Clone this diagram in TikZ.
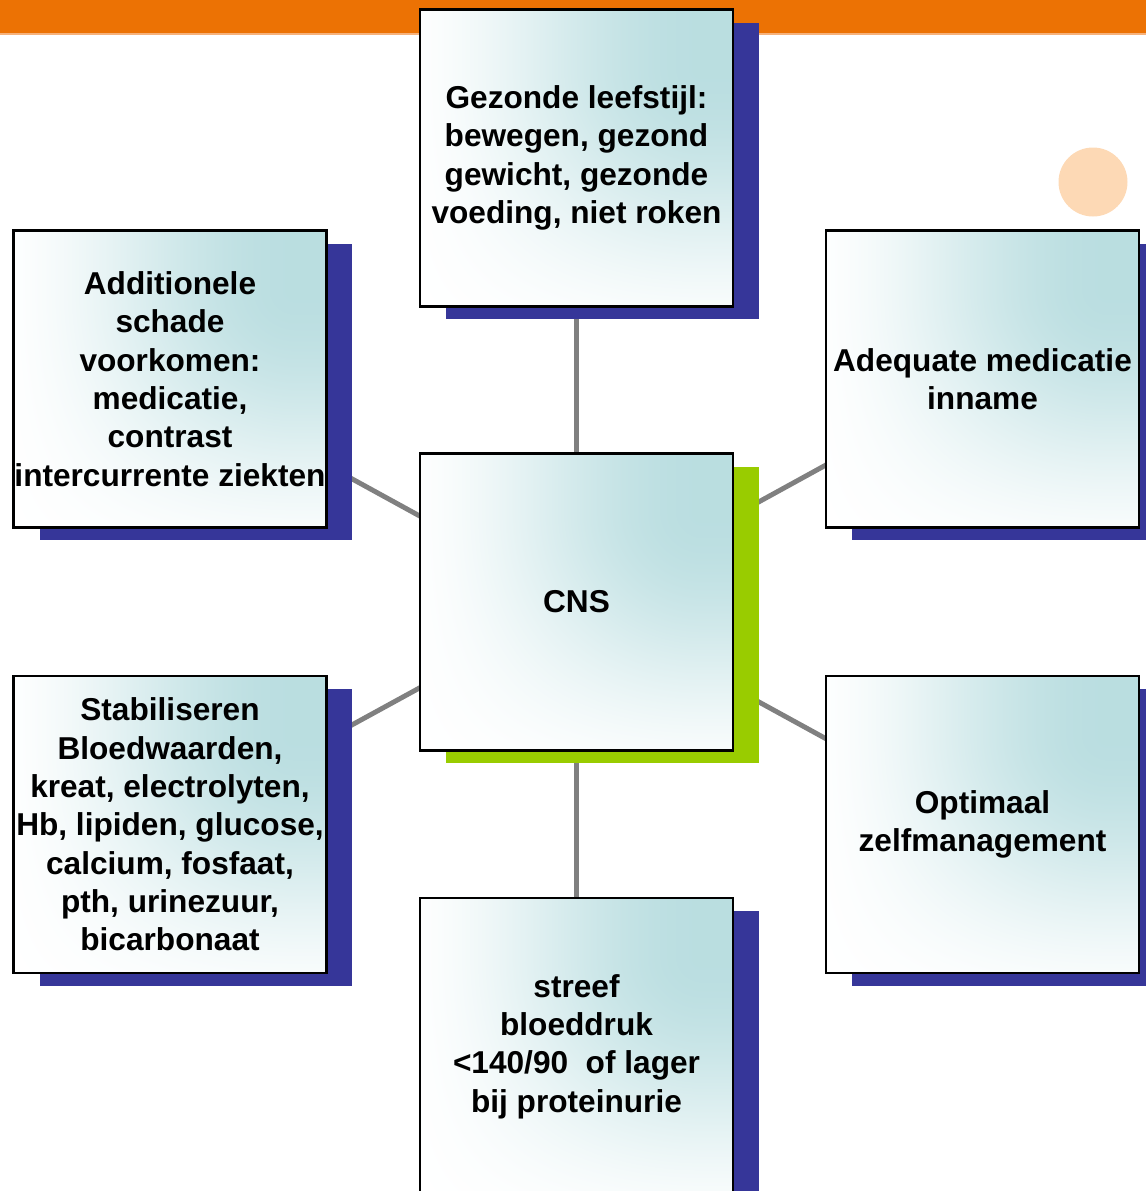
\documentclass[tikz,border=0pt]{standalone}
\usepackage{fontspec}
\setmainfont{Liberation Sans}
\usetikzlibrary{shadows,backgrounds}
\definecolor{bandorange}{HTML}{EC7204}
\definecolor{bandlight}{HTML}{F6B27C}
\definecolor{shadowblue}{HTML}{363699}
\definecolor{shadowgreen}{HTML}{99CC00}
\definecolor{linkgray}{HTML}{808080}
\definecolor{dotpeach}{HTML}{FDD9B5}
% teal in the top right corner, white to the left and below
\pgfdeclarefunctionalshading{boxglow}{\pgfpoint{-50bp}{-50bp}}{\pgfpoint{50bp}{50bp}}{}{
  exch 30 add 50 div dup 0 lt {pop 0} if dup 1 gt {pop 1} if
  dup dup mul exch 2 mul 3 exch sub mul
  exch 35 add 50 div dup 0 lt {pop 0} if dup 1 gt {pop 1} if
  dup dup mul exch 2 mul 3 exch sub mul
  mul
  dup 0.27 mul 1 exch sub
  exch dup 0.13 mul 1 exch sub
  exch 0.12 mul 1 exch sub
}
\tikzset{
  goal/.style={draw=black, line width=1.3pt, fill=white, minimum width=6.26cm, minimum height=5.94cm,
    inner sep=0pt, align=center, font=\bfseries\fontsize{18}{21.8}\selectfont,
    path picture={\shade[shading=boxglow] (path picture bounding box.south west) rectangle (path picture bounding box.north east);},
    drop shadow={shadow xshift=0.52cm, shadow yshift=-0.26cm, fill=#1, opacity=1}},
  goal/.default=shadowblue,
  link/.style={draw=linkgray, line width=2.8pt}
}
\begin{document}
\begin{tikzpicture}[x=0.02cm,y=-0.02cm]
  \useasboundingbox (0,0) rectangle (1146,1191);
  % top band and dot
  \fill[bandorange] (0,0) rectangle (1146,34);
  \draw[bandlight, line width=0.6pt] (0,34) -- (1146,34);
  \fill[dotpeach] (1093,182) circle (34.5);
  % boxes
  \node[goal=shadowgreen] (cns) at (576.5,602) {CNS};
  \node[goal] (leefstijl) at (576.5,158) {Gezonde leefstijl:\\bewegen, gezond\\gewicht, gezonde\\voeding, niet roken};
  \node[goal] (schade) at (170,379) {Additionele\\schade\\voorkomen:\\medicatie,\\contrast\\intercurrente ziekten};
  \node[goal] (medicatie) at (982.5,379) {Adequate medicatie\\inname};
  \node[goal] (bloed) at (170,824.5) {Stabiliseren\\Bloedwaarden,\\kreat, electrolyten,\\Hb, lipiden, glucose,\\calcium, fosfaat,\\pth, urinezuur,\\bicarbonaat};
  \node[goal] (zelf) at (982.5,824.5) {Optimaal\\zelfmanagement};
  \node[goal] (druk) at (576.5,1046.5) {streef\\bloeddruk\\<140/90\ \ of lager\\bij proteinurie};
  \begin{scope}[on background layer]
    \foreach \n in {leefstijl,schade,medicatie,bloed,zelf,druk} \draw[link] (cns.center) -- (\n.center);
  \end{scope}
\end{tikzpicture}
\end{document}
